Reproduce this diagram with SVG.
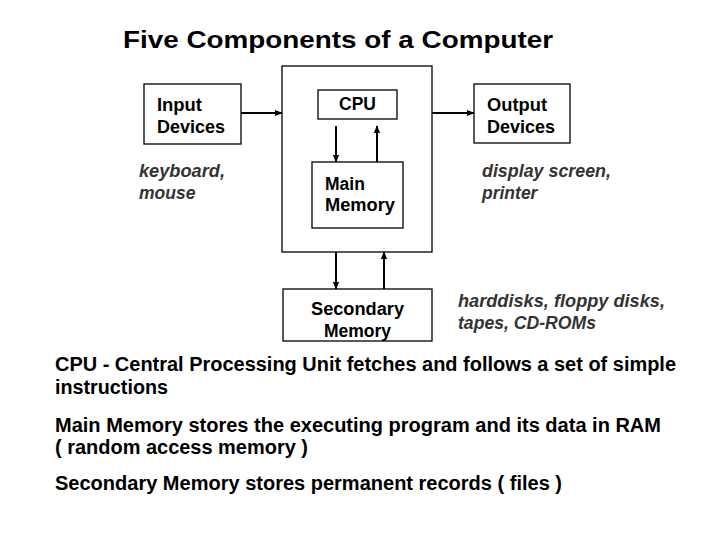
<svg xmlns="http://www.w3.org/2000/svg" width="720" height="540" viewBox="0 0 720 540">
<defs>
<style>
.box{fill:#fff;stroke:#000;stroke-width:1.3}
.lbl{font-family:"Liberation Sans",Arial,sans-serif;font-weight:bold;font-size:17.5px;fill:#000}
.it{font-family:"Liberation Sans",Arial,sans-serif;font-weight:bold;font-style:italic;font-size:17.5px;fill:#333}
.body{font-family:"Liberation Sans",Arial,sans-serif;font-weight:bold;font-size:19.5px;fill:#000}
.title{font-family:"Liberation Sans",Arial,sans-serif;font-weight:bold;font-size:24px;fill:#000}
.con{stroke:#000;stroke-width:2;fill:none;marker-end:url(#ah)}
</style>
<marker id="ah" viewBox="0 0 10 10" refX="9" refY="5" markerWidth="4" markerHeight="4" orient="auto" markerUnits="strokeWidth">
<path d="M0,1 L10,5 L0,9 z" fill="#000"/>
</marker>
</defs>
<rect width="720" height="540" fill="#fff"/>
<text class="title" x="123" y="48" textLength="430" lengthAdjust="spacingAndGlyphs">Five Components of a Computer</text>
<g id="computer"><rect class="box" x="282" y="66" width="150" height="186"/></g>
<g id="input"><rect class="box" x="144" y="84" width="97" height="60"/><text class="lbl" x="157" y="111" textLength="45" lengthAdjust="spacingAndGlyphs">Input</text><text class="lbl" x="157" y="133" textLength="68" lengthAdjust="spacingAndGlyphs">Devices</text></g>
<g id="cpu"><rect class="box" x="318" y="90" width="79" height="29"/><text class="lbl" x="357.5" y="110" text-anchor="middle">CPU</text></g>
<g id="output"><rect class="box" x="474" y="84" width="96" height="59"/><text class="lbl" x="487" y="111" textLength="60" lengthAdjust="spacingAndGlyphs">Output</text><text class="lbl" x="487" y="133" textLength="68" lengthAdjust="spacingAndGlyphs">Devices</text></g>
<g id="mainmem"><rect class="box" x="312" y="162" width="91" height="66"/><text class="lbl" x="325" y="190">Main</text><text class="lbl" x="325" y="211" textLength="70" lengthAdjust="spacingAndGlyphs">Memory</text></g>
<g id="secmem"><rect class="box" x="283" y="289" width="149" height="52"/><text class="lbl" x="357.5" y="315" text-anchor="middle" textLength="93" lengthAdjust="spacingAndGlyphs">Secondary</text><text class="lbl" x="357.5" y="337" text-anchor="middle">Memory</text></g>
<g id="notes">
<text class="it" x="139" y="177" textLength="86" lengthAdjust="spacingAndGlyphs">keyboard,</text><text class="it" x="139" y="199">mouse</text>
<text class="it" x="482" y="177" textLength="129" lengthAdjust="spacingAndGlyphs">display screen,</text><text class="it" x="482" y="199">printer</text>
<text class="it" x="458" y="307" textLength="207" lengthAdjust="spacingAndGlyphs">harddisks, floppy disks,</text><text class="it" x="458" y="329" textLength="138" lengthAdjust="spacingAndGlyphs">tapes, CD-ROMs</text>
<text class="body" x="55" y="371" textLength="621" lengthAdjust="spacingAndGlyphs">CPU - Central Processing Unit fetches and follows a set of simple</text>
<text class="body" x="55" y="394" textLength="113" lengthAdjust="spacingAndGlyphs">instructions</text>
<text class="body" x="55" y="432" textLength="606" lengthAdjust="spacingAndGlyphs">Main Memory stores the executing program and its data in RAM</text>
<text class="body" x="55" y="454" textLength="253" lengthAdjust="spacingAndGlyphs">( random access memory )</text>
<text class="body" x="55" y="490" textLength="507" lengthAdjust="spacingAndGlyphs">Secondary Memory stores permanent records ( files )</text>
</g>
<g id="connectors">
<line class="con" x1="241" y1="113" x2="282" y2="113"/>
<line class="con" x1="432" y1="113" x2="474" y2="113"/>
<line class="con" x1="336" y1="126" x2="336" y2="162"/>
<line class="con" x1="377" y1="162" x2="377" y2="126"/>
<line class="con" x1="336" y1="252" x2="336" y2="289"/>
<line class="con" x1="384" y1="289" x2="384" y2="252"/>
</g>
</svg>
